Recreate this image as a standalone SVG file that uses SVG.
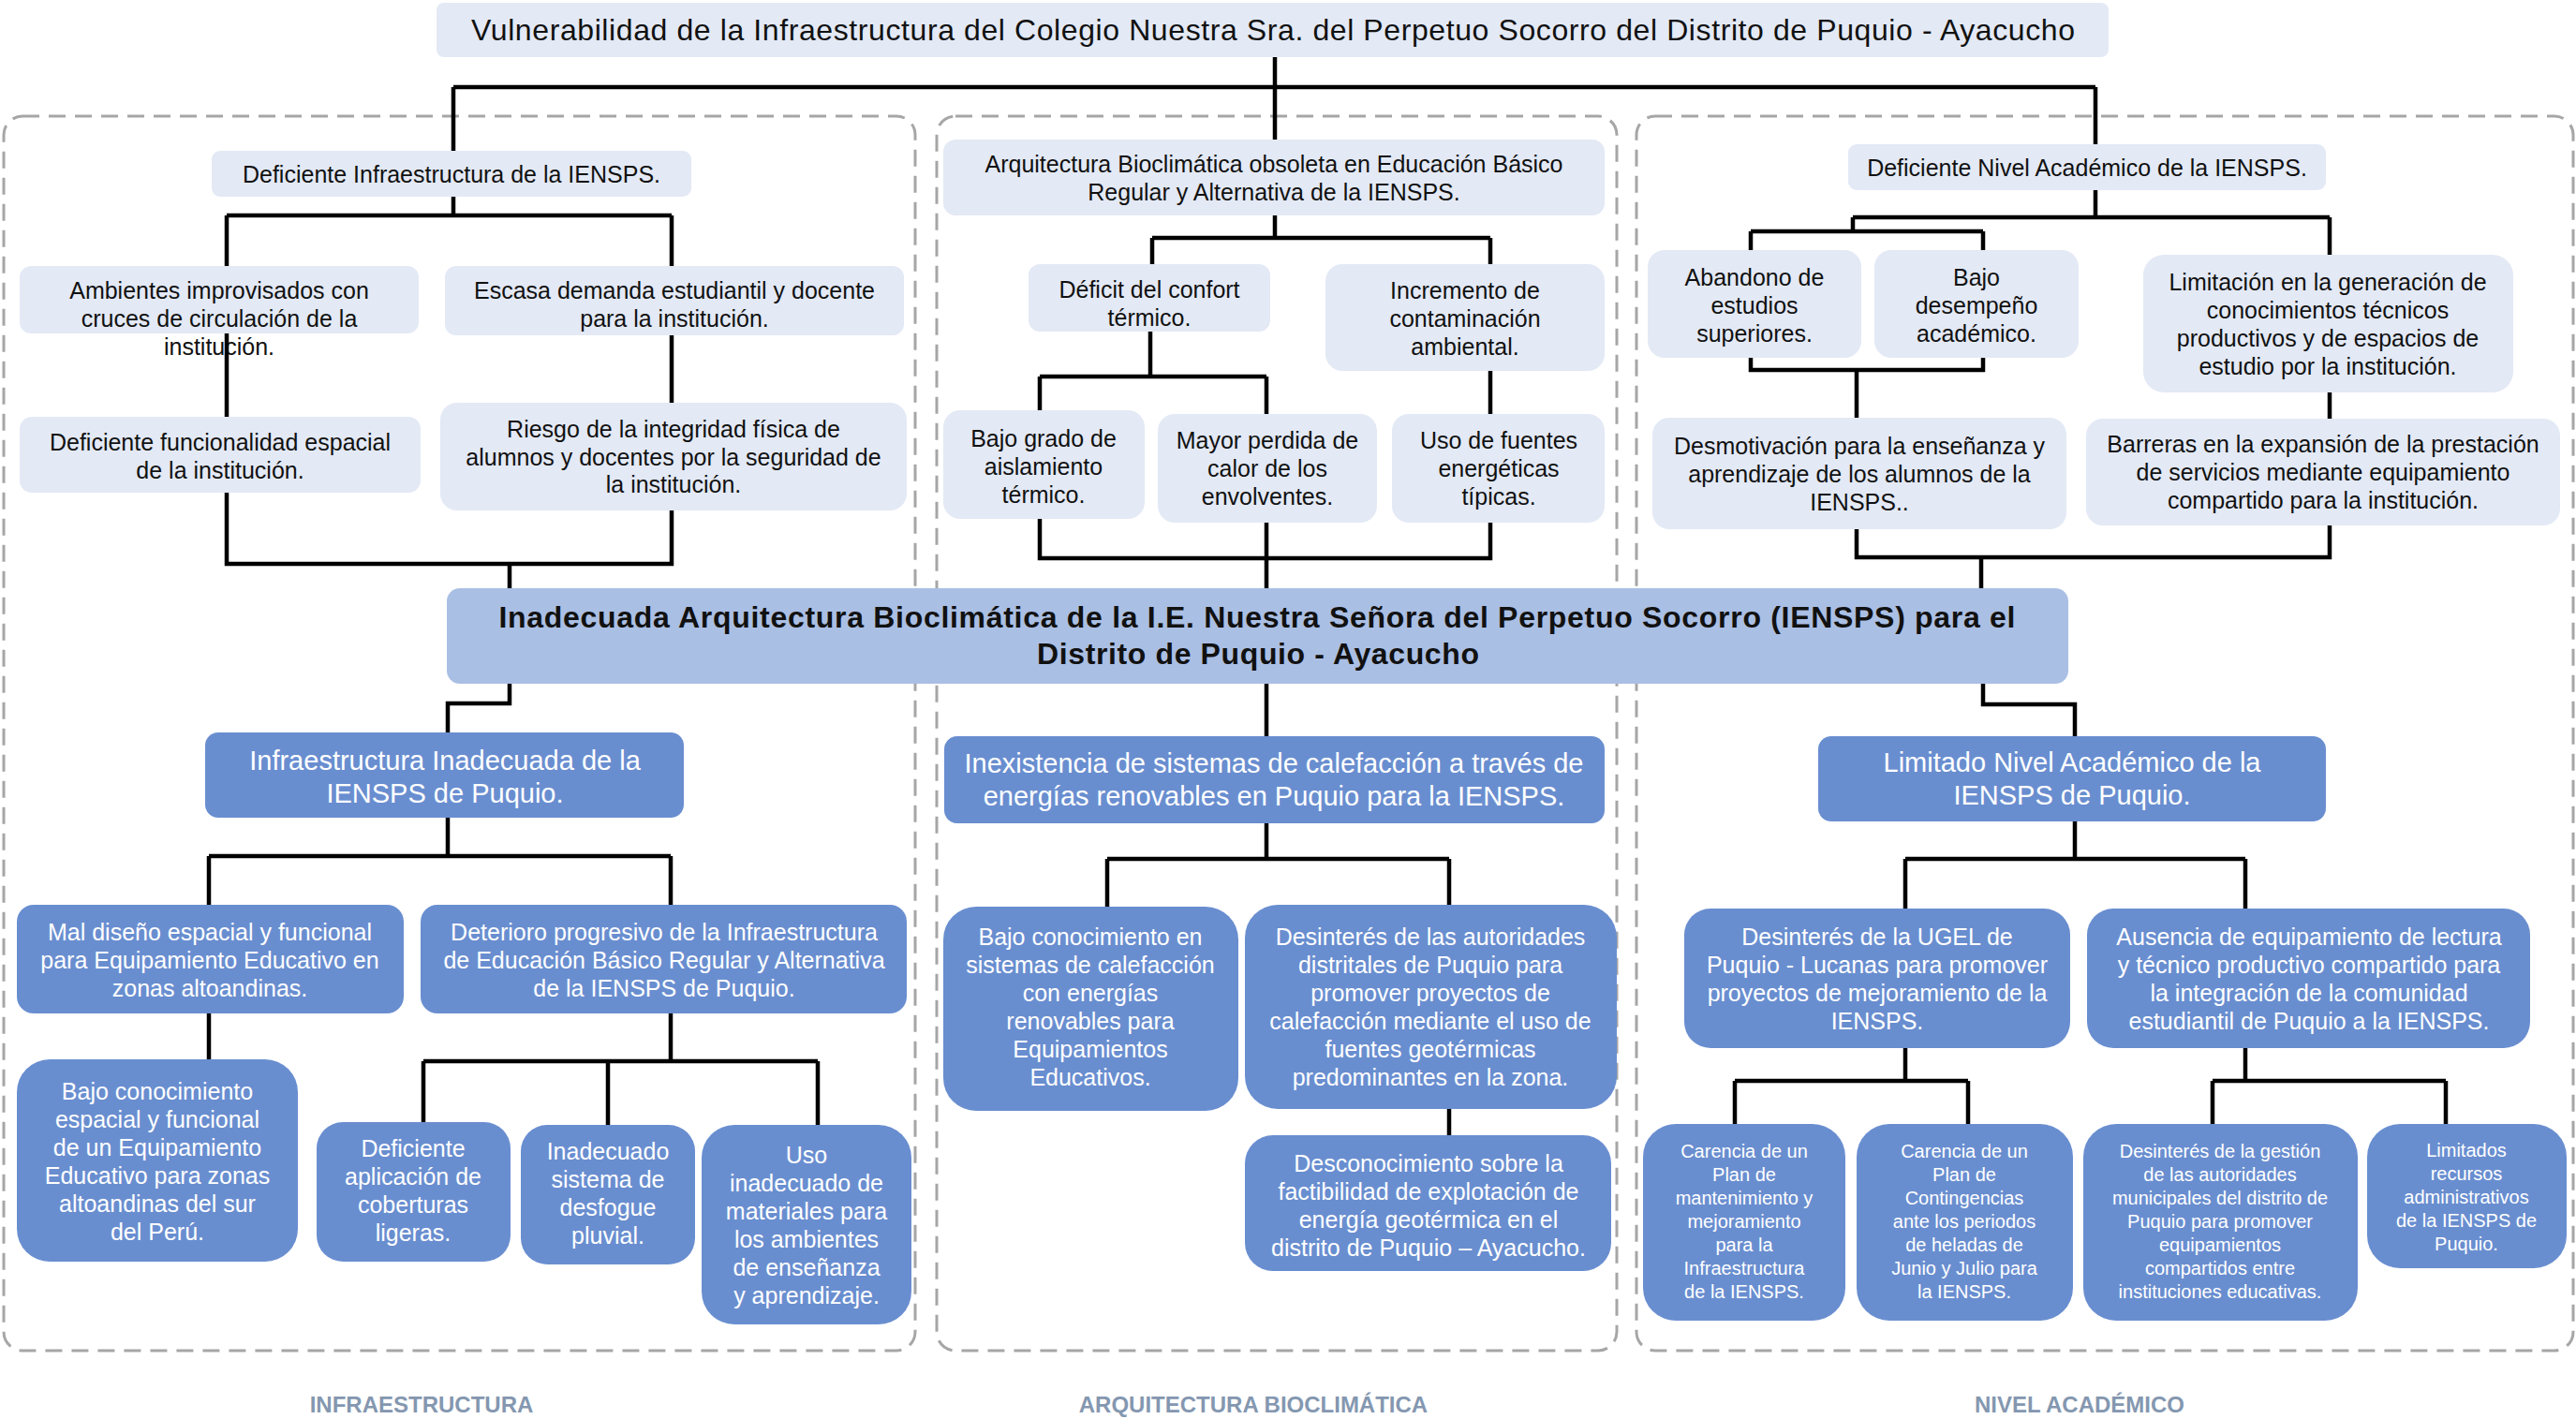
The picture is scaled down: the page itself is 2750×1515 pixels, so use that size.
<svg xmlns="http://www.w3.org/2000/svg" width="2750" height="1515" viewBox="0 0 2750 1515">
<style>
.lt{fill:#E3E9F5}
.bl{fill:#698ED0}
.mn{fill:#AABFE4}
.dash{fill:none;stroke:#A6A6A6;stroke-width:3;stroke-dasharray:18 10}
.cn{fill:none;stroke:#000;stroke-width:4.5;stroke-linejoin:miter}
text{font-family:"Liberation Sans",Arial,sans-serif;text-anchor:middle}
.k{fill:#111}
.w{fill:#fff}
.f25{font-size:25px}
.f29{font-size:29px}
.f20{font-size:20px}
.lab{font-size:24px;font-weight:bold;fill:#8497B0}
</style>
<rect width="2750" height="1515" fill="#fff"/>
<g id="groups">
<rect class="dash" x="4" y="124" width="973" height="1318" rx="20"/>
<rect class="dash" x="1000" y="124" width="726" height="1318" rx="20"/>
<rect class="dash" x="1747" y="124" width="1000" height="1318" rx="20"/>
<text class="lab" x="450" y="1508">INFRAESTRUCTURA</text>
<text class="lab" x="1338" y="1508">ARQUITECTURA BIOCLIMÁTICA</text>
<text class="lab" x="2220" y="1508">NIVEL ACADÉMICO</text>
</g>
<g id="title"><rect class="lt" x="466" y="3" width="1785" height="58" rx="8"/>
<text class="k" x="1359" y="43" font-size="32" textLength="1712" lengthAdjust="spacing">Vulnerabilidad de la Infraestructura del Colegio Nuestra Sra. del Perpetuo Socorro del Distrito de Puquio - Ayacucho</text></g>

<g id="n1"><rect class="lt" x="226" y="161" width="512" height="49" rx="9"/><text class="k f25" x="482" y="195">Deficiente Infraestructura de la IENSPS.</text></g>
<g id="n2"><rect class="lt" x="21" y="284" width="426" height="72" rx="12"/><text class="k f25"><tspan x="234" y="319">Ambientes improvisados con</tspan><tspan x="234" y="349">cruces de circulación de la</tspan><tspan x="234" y="379">institución.</tspan></text></g>
<g id="n3"><rect class="lt" x="475" y="284" width="490" height="74" rx="12"/><text class="k f25"><tspan x="720" y="319">Escasa demanda estudiantil y docente</tspan><tspan x="720" y="349">para la institución.</tspan></text></g>
<g id="n4"><rect class="lt" x="21" y="445" width="428" height="81" rx="13"/><text class="k f25"><tspan x="235" y="481">Deficiente funcionalidad espacial</tspan><tspan x="235" y="511">de la institución.</tspan></text></g>
<g id="n5"><rect class="lt" x="470" y="430" width="498" height="115" rx="18"/><text class="k f25"><tspan x="719" y="467">Riesgo de la integridad física de</tspan><tspan x="719" y="497">alumnos y docentes por la seguridad de</tspan><tspan x="719" y="526">la institución.</tspan></text></g>

<g id="n6"><rect class="lt" x="1007" y="149" width="706" height="81" rx="13"/><text class="k f25"><tspan x="1360" y="184">Arquitectura Bioclimática obsoleta en Educación Básico</tspan><tspan x="1360" y="214">Regular y Alternativa de la IENSPS.</tspan></text></g>
<g id="n7"><rect class="lt" x="1098" y="282" width="258" height="72" rx="12"/><text class="k f25"><tspan x="1227" y="318">Déficit del confort</tspan><tspan x="1227" y="348">térmico.</tspan></text></g>
<g id="n8"><rect class="lt" x="1415" y="282" width="298" height="114" rx="18"/><text class="k f25"><tspan x="1564" y="319">Incremento de</tspan><tspan x="1564" y="349">contaminación</tspan><tspan x="1564" y="379">ambiental.</tspan></text></g>
<g id="n9"><rect class="lt" x="1007" y="438" width="215" height="116" rx="18"/><text class="k f25"><tspan x="1114" y="477">Bajo grado de</tspan><tspan x="1114" y="507">aislamiento</tspan><tspan x="1114" y="537">térmico.</tspan></text></g>
<g id="n10"><rect class="lt" x="1236" y="442" width="234" height="116" rx="18"/><text class="k f25"><tspan x="1353" y="479">Mayor perdida de</tspan><tspan x="1353" y="509">calor de los</tspan><tspan x="1353" y="539">envolventes.</tspan></text></g>
<g id="n11"><rect class="lt" x="1486" y="442" width="227" height="116" rx="18"/><text class="k f25"><tspan x="1600" y="479">Uso de fuentes</tspan><tspan x="1600" y="509">energéticas</tspan><tspan x="1600" y="539">típicas.</tspan></text></g>

<g id="n12"><rect class="lt" x="1973" y="154" width="510" height="49" rx="9"/><text class="k f25" x="2228" y="188">Deficiente Nivel Académico de la IENSPS.</text></g>
<g id="n13"><rect class="lt" x="1759" y="267" width="228" height="115" rx="18"/><text class="k f25"><tspan x="1873" y="305">Abandono de</tspan><tspan x="1873" y="335">estudios</tspan><tspan x="1873" y="365">superiores.</tspan></text></g>
<g id="n14"><rect class="lt" x="2001" y="267" width="218" height="115" rx="18"/><text class="k f25"><tspan x="2110" y="305">Bajo</tspan><tspan x="2110" y="335">desempeño</tspan><tspan x="2110" y="365">académico.</tspan></text></g>
<g id="n15"><rect class="lt" x="2288" y="272" width="395" height="147" rx="22"/><text class="k f25"><tspan x="2485" y="310">Limitación en la generación de</tspan><tspan x="2485" y="340">conocimientos técnicos</tspan><tspan x="2485" y="370">productivos y de espacios de</tspan><tspan x="2485" y="400">estudio por la institución.</tspan></text></g>
<g id="n16"><rect class="lt" x="1764" y="446" width="442" height="119" rx="18"/><text class="k f25"><tspan x="1985" y="485">Desmotivación para la enseñanza y</tspan><tspan x="1985" y="515">aprendizaje de los alumnos de la</tspan><tspan x="1985" y="545">IENSPS..</tspan></text></g>
<g id="n17"><rect class="lt" x="2227" y="447" width="506" height="114" rx="18"/><text class="k f25"><tspan x="2480" y="483">Barreras en la expansión de la prestación</tspan><tspan x="2480" y="513">de servicios mediante equipamiento</tspan><tspan x="2480" y="543">compartido para la institución.</tspan></text></g>

<g id="main"><rect class="mn" x="477" y="628" width="1731" height="102" rx="14"/><text class="k" font-size="32" font-weight="bold"><tspan x="1342" y="670" textLength="1619" lengthAdjust="spacing">Inadecuada Arquitectura Bioclimática de la I.E. Nuestra Señora del Perpetuo Socorro (IENSPS) para el</tspan><tspan x="1343" y="709" textLength="472" lengthAdjust="spacing">Distrito de Puquio - Ayacucho</tspan></text></g>

<g id="n18"><rect class="bl" x="219" y="782" width="511" height="91" rx="14"/><text class="w f29"><tspan x="475" y="822">Infraestructura Inadecuada de la</tspan><tspan x="475" y="857">IENSPS de Puquio.</tspan></text></g>
<g id="n19"><rect class="bl" x="1008" y="786" width="705" height="93" rx="14"/><text class="w f29"><tspan x="1360" y="825">Inexistencia de sistemas de calefacción a través de</tspan><tspan x="1360" y="860">energías renovables en Puquio para la IENSPS.</tspan></text></g>
<g id="n20"><rect class="bl" x="1941" y="786" width="542" height="91" rx="14"/><text class="w f29"><tspan x="2212" y="824">Limitado Nivel Académico de la</tspan><tspan x="2212" y="859">IENSPS de Puquio.</tspan></text></g>

<g id="n21"><rect class="bl" x="18" y="966" width="413" height="116" rx="18"/><text class="w f25"><tspan x="224" y="1004">Mal diseño espacial y funcional</tspan><tspan x="224" y="1034">para Equipamiento Educativo en</tspan><tspan x="224" y="1064">zonas altoandinas.</tspan></text></g>
<g id="n22"><rect class="bl" x="449" y="966" width="519" height="116" rx="18"/><text class="w f25"><tspan x="709" y="1004">Deterioro progresivo de la Infraestructura</tspan><tspan x="709" y="1034">de Educación Básico Regular y Alternativa</tspan><tspan x="709" y="1064">de la IENSPS de Puquio.</tspan></text></g>
<g id="n23"><rect class="bl" x="18" y="1131" width="300" height="216" rx="35"/><text class="w f25"><tspan x="168" y="1174">Bajo conocimiento</tspan><tspan x="168" y="1204">espacial y funcional</tspan><tspan x="168" y="1234">de un Equipamiento</tspan><tspan x="168" y="1264">Educativo para zonas</tspan><tspan x="168" y="1294">altoandinas del sur</tspan><tspan x="168" y="1324">del Perú.</tspan></text></g>
<g id="n24"><rect class="bl" x="338" y="1198" width="207" height="149" rx="28"/><text class="w f25"><tspan x="441" y="1235">Deficiente</tspan><tspan x="441" y="1265">aplicación de</tspan><tspan x="441" y="1295">coberturas</tspan><tspan x="441" y="1325">ligeras.</tspan></text></g>
<g id="n25"><rect class="bl" x="556" y="1201" width="186" height="149" rx="28"/><text class="w f25"><tspan x="649" y="1238">Inadecuado</tspan><tspan x="649" y="1268">sistema de</tspan><tspan x="649" y="1298">desfogue</tspan><tspan x="649" y="1328">pluvial.</tspan></text></g>
<g id="n26"><rect class="bl" x="749" y="1201" width="224" height="213" rx="35"/><text class="w f25"><tspan x="861" y="1242">Uso</tspan><tspan x="861" y="1272">inadecuado de</tspan><tspan x="861" y="1302">materiales para</tspan><tspan x="861" y="1332">los ambientes</tspan><tspan x="861" y="1362">de enseñanza</tspan><tspan x="861" y="1392">y aprendizaje.</tspan></text></g>

<g id="n27"><rect class="bl" x="1007" y="968" width="315" height="218" rx="35"/><text class="w f25"><tspan x="1164" y="1009">Bajo conocimiento en</tspan><tspan x="1164" y="1039">sistemas de calefacción</tspan><tspan x="1164" y="1069">con energías</tspan><tspan x="1164" y="1099">renovables para</tspan><tspan x="1164" y="1129">Equipamientos</tspan><tspan x="1164" y="1159">Educativos.</tspan></text></g>
<g id="n28"><rect class="bl" x="1329" y="966" width="397" height="218" rx="35"/><text class="w f25"><tspan x="1527" y="1009">Desinterés de las autoridades</tspan><tspan x="1527" y="1039">distritales de Puquio para</tspan><tspan x="1527" y="1069">promover proyectos de</tspan><tspan x="1527" y="1099">calefacción mediante el uso de</tspan><tspan x="1527" y="1129">fuentes geotérmicas</tspan><tspan x="1527" y="1159">predominantes en la zona.</tspan></text></g>
<g id="n29"><rect class="bl" x="1329" y="1212" width="391" height="145" rx="30"/><text class="w f25"><tspan x="1525" y="1251">Desconocimiento sobre la</tspan><tspan x="1525" y="1281">factibilidad de explotación de</tspan><tspan x="1525" y="1311">energía geotérmica en el</tspan><tspan x="1525" y="1341">distrito de Puquio – Ayacucho.</tspan></text></g>

<g id="n30"><rect class="bl" x="1798" y="970" width="412" height="149" rx="28"/><text class="w f25"><tspan x="2004" y="1009">Desinterés de la UGEL de</tspan><tspan x="2004" y="1039">Puquio - Lucanas para promover</tspan><tspan x="2004" y="1069">proyectos de mejoramiento de la</tspan><tspan x="2004" y="1099">IENSPS.</tspan></text></g>
<g id="n31"><rect class="bl" x="2228" y="970" width="473" height="149" rx="28"/><text class="w f25"><tspan x="2465" y="1009">Ausencia de equipamiento de lectura</tspan><tspan x="2465" y="1039">y técnico productivo compartido para</tspan><tspan x="2465" y="1069">la integración de la comunidad</tspan><tspan x="2465" y="1099">estudiantil de Puquio a la IENSPS.</tspan></text></g>
<g id="n32"><rect class="bl" x="1754" y="1200" width="216" height="210" rx="35"/><text class="w f20"><tspan x="1862" y="1236">Carencia de un</tspan><tspan x="1862" y="1261">Plan de</tspan><tspan x="1862" y="1286">mantenimiento y</tspan><tspan x="1862" y="1311">mejoramiento</tspan><tspan x="1862" y="1336">para la</tspan><tspan x="1862" y="1361">Infraestructura</tspan><tspan x="1862" y="1386">de la IENSPS.</tspan></text></g>
<g id="n33"><rect class="bl" x="1982" y="1200" width="231" height="210" rx="35"/><text class="w f20"><tspan x="2097" y="1236">Carencia de un</tspan><tspan x="2097" y="1261">Plan de</tspan><tspan x="2097" y="1286">Contingencias</tspan><tspan x="2097" y="1311">ante los periodos</tspan><tspan x="2097" y="1336">de heladas de</tspan><tspan x="2097" y="1361">Junio y Julio para</tspan><tspan x="2097" y="1386">la IENSPS.</tspan></text></g>
<g id="n34"><rect class="bl" x="2224" y="1200" width="293" height="210" rx="35"/><text class="w f20"><tspan x="2370" y="1236">Desinterés de la gestión</tspan><tspan x="2370" y="1261">de las autoridades</tspan><tspan x="2370" y="1286">municipales del distrito de</tspan><tspan x="2370" y="1311">Puquio para promover</tspan><tspan x="2370" y="1336">equipamientos</tspan><tspan x="2370" y="1361">compartidos entre</tspan><tspan x="2370" y="1386">instituciones educativas.</tspan></text></g>
<g id="n35"><rect class="bl" x="2527" y="1200" width="213" height="154" rx="35"/><text class="w f20"><tspan x="2633" y="1235">Limitados</tspan><tspan x="2633" y="1260">recursos</tspan><tspan x="2633" y="1285">administrativos</tspan><tspan x="2633" y="1310">de la IENSPS de</tspan><tspan x="2633" y="1335">Puquio.</tspan></text></g>

<g id="connectors" class="cn">
<path d="M1361,61V93M484,93H2237M484,93V161M1361,93V149M2237,93V154"/>
<path d="M484,210V230M242,230H717M242,230V284M717,230V284M242,356V445M717,358V430M242,526V602H717V545M544,602V628"/>
<path d="M1361,230V254M1230,254H1591M1230,254V282M1591,254V282M1228,354V402M1110,402H1352M1110,402V438M1352,402V442M1591,396V442M1110,554V596H1591V558M1352,558V628"/>
<path d="M2237,203V232M1978,232H2487M1978,232V247M2487,232V272M1869,247H2117M1869,247V267M2117,247V267M1869,382V395H2117V382M1982,395V446M2487,419V447M1982,565V595H2487V561M2115,595V628"/>
<path d="M544,730V751H478V782M1352,730V786M2117,730V752H2215V786"/>
<path d="M478,873V914M223,914H716M223,914V966M716,914V966M223,1082V1131M716,1082V1133M452,1133H873M452,1133V1198M649,1133V1201M873,1133V1201"/>
<path d="M1352,879V917M1182,917H1547M1182,917V968M1547,917V966M1547,1184V1212"/>
<path d="M2215,877V917M2034,917H2397M2034,917V970M2397,917V970M2034,1119V1154M1852,1154H2101M1852,1154V1200M2101,1154V1200M2397,1119V1154M2362,1154H2611M2362,1154V1200M2611,1154V1200"/>
</g>
</svg>
